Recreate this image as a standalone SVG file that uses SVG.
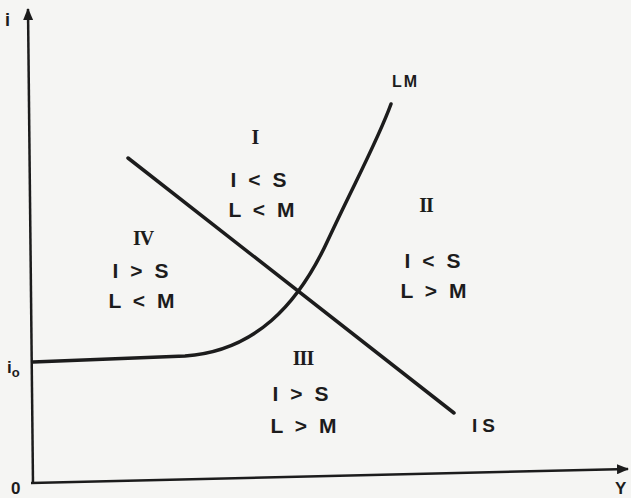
<svg xmlns="http://www.w3.org/2000/svg" width="631" height="498" viewBox="0 0 631 498">
<style>
.ax{stroke:#1c1c1c;stroke-width:2.5;fill:none}
.cv{stroke:#1c1c1c;stroke-width:3.5;fill:none;stroke-linecap:round}
.t{font-family:"Liberation Sans",Arial,sans-serif;font-size:21px;font-weight:bold;fill:#1c1c1c;text-anchor:middle;letter-spacing:3px}
.r{font-family:"Liberation Serif","Times New Roman",serif;font-size:20px;font-weight:bold;fill:#1c1c1c;text-anchor:middle;letter-spacing:-1px}
.l{font-family:"Liberation Sans",Arial,sans-serif;font-weight:bold;fill:#1c1c1c}
</style>
<defs>
<marker id="ah" viewBox="0 0 12 10" refX="11" refY="5" markerWidth="12" markerHeight="10" markerUnits="userSpaceOnUse" orient="auto">
<path d="M0,0 L12,5 L0,10 Z" fill="#1c1c1c"/>
</marker>
</defs>
<rect width="631" height="498" fill="#f5f5f3"/>
<g id="axes">
<path class="ax" d="M33,484 L28,9" marker-end="url(#ah)"/>
<path class="ax" d="M31,483 L628,469" marker-end="url(#ah)"/>
</g>
<g id="curves">
<path id="LM" class="cv" d="M33,362 L185,356 C255,351 298,305 328,240 C355,182 378,140 391,104"/>
<path id="IS" class="cv" d="M128,158 L454,413"/>
</g>
<g id="labels">
<text class="l" x="5" y="26" font-size="18">i</text>
<text class="l" x="7" y="373" font-size="17">i<tspan font-size="13" dy="4">o</tspan></text>
<text class="l" x="11" y="494" font-size="17">0</text>
<text class="l" x="615" y="494" font-size="17">Y</text>
<text class="l" x="392" y="87" font-size="16" letter-spacing="2">LM</text>
<text class="l" x="472" y="432" font-size="19" letter-spacing="5">IS</text>
</g>
<g id="region-I">
<text class="r" x="255" y="144">I</text>
<text class="t" x="260" y="187">I &lt; S</text>
<text class="t" x="263" y="217">L &lt; M</text>
</g>
<g id="region-II">
<text class="r" x="426" y="212">II</text>
<text class="t" x="434" y="268">I &lt; S</text>
<text class="t" x="435" y="298">L &gt; M</text>
</g>
<g id="region-III">
<text class="r" x="303" y="365">III</text>
<text class="t" x="302" y="401">I &gt; S</text>
<text class="t" x="305" y="433">L &gt; M</text>
</g>
<g id="region-IV">
<text class="r" x="143" y="245">IV</text>
<text class="t" x="142" y="278">I &gt; S</text>
<text class="t" x="143" y="308">L &lt; M</text>
</g>
</svg>
